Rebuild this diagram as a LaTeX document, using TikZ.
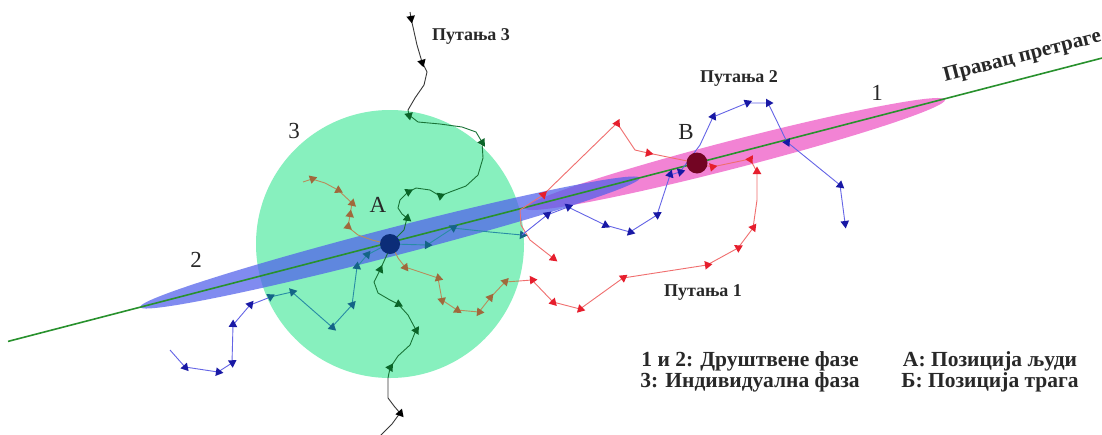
\documentclass[tikz,border=0pt]{standalone}
\usepackage{fontspec}
\setmainfont{Liberation Serif}
\usetikzlibrary{shapes.geometric}
\definecolor{mint}{RGB}{135,240,190}
\definecolor{bandblue}{RGB}{80,95,235}
\definecolor{bandpink}{RGB}{240,110,205}
\definecolor{searchgreen}{RGB}{40,145,45}
\definecolor{dotA}{RGB}{12,45,120}
\definecolor{dotB}{RGB}{115,5,35}
\definecolor{lnblue}{RGB}{100,100,230}
\definecolor{mkblue}{RGB}{25,25,165}
\definecolor{lnteal}{RGB}{40,140,165}
\definecolor{mkteal}{RGB}{20,100,135}
\definecolor{lnred}{RGB}{240,110,110}
\definecolor{mkred}{RGB}{230,30,45}
\definecolor{lnbrown}{RGB}{185,140,90}
\definecolor{mkbrown}{RGB}{160,105,60}
\definecolor{lnblack}{RGB}{55,55,55}
\definecolor{lngreen}{RGB}{25,115,55}
\definecolor{mkgreen}{RGB}{10,100,40}
\definecolor{txt}{RGB}{40,40,40}
\newcommand\walk[5]{%
  \draw[#1] (#3,#4) \foreach \x/\y/\m in {#5}{ -- (\x,\y) };
  \foreach \x/\y/\m [remember=\x as \lx (initially #3),remember=\y as \ly (initially #4)] in {#5}{%
    \ifnum\m=1 \path (\lx,\ly) -- (\x,\y) node[pos=1,sloped,mk,fill=#2]{};\fi}%
}
\begin{document}
\begin{tikzpicture}[x=1pt,y=-1pt,
  mk/.style={isosceles triangle,isosceles triangle apex angle=60,inner sep=2pt,draw=none},
  ln/.style={line width=0.9pt,line join=round},
  lbl/.style={font=\fontsize{23}{23}\selectfont,inner sep=0pt,text=txt},
  plbl/.style={font=\bfseries\fontsize{18}{18}\selectfont,inner sep=0pt,text=txt},
  leg/.style={font=\bfseries\fontsize{21.5}{21.5}\selectfont,align=center,inner sep=0pt,text=txt}]
\useasboundingbox (0,0) rectangle (1102,434);
\fill[white] (0,0) rectangle (1102,434);
% individual phase disk
\fill[mint] (390,244) circle (134);
% social phase bands
\fill[bandpink, opacity=0.85, rotate around={14.5:(735,154)}] (735,154) ellipse (217 and 14);
\fill[bandblue, opacity=0.72, rotate around={14.5:(390,242.5)}] (390,242.5) ellipse (258 and 14);
% search direction
\coordinate (s0) at (8,341.4);
\coordinate (s1) at (1110,56);
\draw[searchgreen, line width=1.6pt] (s0) -- (s1);
% trajectory 3
\walk{ln,lnblack}{black}{410}{12}{411/18/1,417/45/0,422/62/1,427/72/0,424/85/0,415/98/0,408/110/0}
\walk{ln,lngreen}{mkgreen}{408}{110}{409/115/1,418/122/0,440/124/0,462/127/0,476/132/0,482/142/1,483/158/0,478/175/0,466/186/0,450/192/0,440/196/1,430/190/0,416/188/0,408/192/1,400/200/0,398/208/0,402/214/0,407/218/1,404/230/0,392/242/0}
\walk{ln,lngreen}{mkgreen}{390}{248}{380/270/1,374/282/0,378/293/0,390/300/0,398/304/1,408/315/0,416/330/1,410/345/0,398/356/0,390/368/1,388/378/0}
\walk{ln,lnblack}{black}{388}{378}{388/398/0,394/406/0,400/413/1,392/424/0,380/436/0}
% trajectory 1
\walk{ln,lnbrown}{mkbrown}{303}{182}{312/179/1,325/183/0,338/190/1,352/203/1,350/215/1,348/227/1,358/235/0,372/240/0,388/244/0}
\walk{ln,lnbrown}{mkbrown}{392}{246}{398/258/0,405/267/1,420/272/0,438/278/1,442/300/1,457/310/1,479/312/1,490/298/1,505/282/1,519/281/0}
\walk{ln,lnred}{mkred}{519}{281}{532/280/1,553/302/1,580/309/1,623/278/1,707/265/1,738/248/1,753/228/1,757/200/0,757/172/1,750/159/1,712/167/1,697/163/0,648/153/1,635/150/0,617/123/1,543/195/1,520/210/0,521/225/0,530/240/0,553/258/1}
% trajectory 2
\walk{ln,lnblue}{mkblue}{170}{350}{185/367/1,218/372/1,232/363/1,233/325/1,250/305/1,268/298/0}
\walk{ln,lnteal}{mkteal}{268}{298}{270/297/1,292/292/1,332/327/1,352/305/1,357/267/1,367/255/1,388/244/0}
\walk{ln,lnteal}{mkteal}{392}{244}{427/245/1,453/228/1,490/232/0,522/235/1}
\walk{ln,lnblue}{mkblue}{522}{235}{547/215/1,568/207/1,605/225/1,630/232/1,657/215/1,670/175/1,680/172/1,700/145/0,713/117/1,747/103/1,768/103/1,787/142/1,840/185/1,845/223/1}
% positions
\node[circle, fill=dotA, minimum size=20pt, inner sep=0pt] (A) at (390,244) {};
\node[circle, fill=dotB, minimum size=21pt, inner sep=0pt] (B) at (697,163) {};
% labels
\node[lbl] (lA) at (378,205) {A};
\node[lbl] (lB) at (686,132) {B};
\node[lbl] (n3) at (294,131) {3};
\node[lbl] (n2) at (196,260) {2};
\node[lbl] (n1) at (877,93) {1};
\node[plbl] (p3) at (471,36) {Путања 3};
\node[plbl] (p2) at (739,78) {Путања 2};
\node[plbl] (p1) at (703,292) {Путања 1};
\node[anchor=base west, rotate=14.5, font=\bfseries\fontsize{21}{21}\selectfont, inner sep=0pt, text=txt] (dir) at (945,82) {Правац претраге};
\node[leg] (legL) at (750,372) {1 и 2: Друштвене фазе\\3: Индивидуална фаза};
\node[leg] (legR) at (990,372) {А: Позиција људи\\Б: Позиција трага};
\end{tikzpicture}
\end{document}
